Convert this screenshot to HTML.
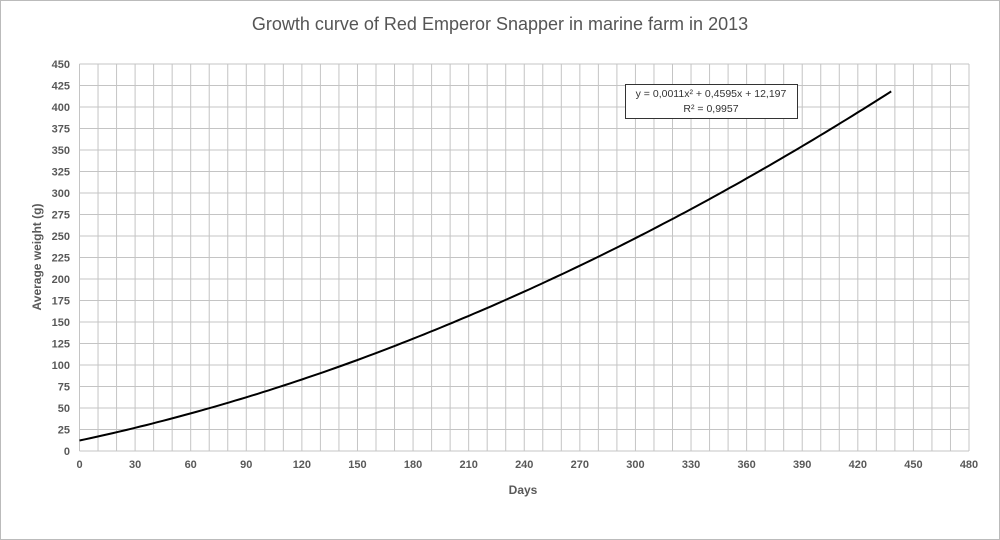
<!DOCTYPE html>
<html><head><style>
html,body{margin:0;padding:0;background:#fff;}
body{width:1000px;height:540px;overflow:hidden;}
svg{display:block;font-family:"Liberation Sans",sans-serif;}
</style></head><body>
<svg id="s" width="1000" height="540" viewBox="0 0 1000 540">
<rect x="0.5" y="0.5" width="999" height="539" fill="#fff" stroke="#bbb"/>
<text x="500" y="30" text-anchor="middle" font-size="18" fill="#555">Growth curve of Red Emperor Snapper in marine farm in 2013</text>
<g id="grid" stroke="#c4c4c4" stroke-width="1"></g>
<g id="lbl" font-size="11" fill="#595959" font-weight="bold"></g>
<text x="523" y="494" text-anchor="middle" font-size="12" font-weight="bold" fill="#595959">Days</text>
<text transform="translate(41,257) rotate(-90)" text-anchor="middle" font-size="12" font-weight="bold" fill="#595959">Average weight (g)</text>
<path id="c" fill="none" stroke="#000" stroke-width="2"/>
<rect x="625.5" y="84.5" width="172" height="34" fill="#fff" stroke="#333"/>
<text x="711" y="97" text-anchor="middle" font-size="10.5" fill="#333">y = 0,0011x² + 0,4595x + 12,197</text>
<text x="711" y="112" text-anchor="middle" font-size="10.5" fill="#333">R² = 0,9957</text>
</svg>
<script>
var L=79.5,R=969,T=64,B=451;
var g=document.getElementById('grid'),l=document.getElementById('lbl'),ns='http://www.w3.org/2000/svg';
function el(p,t,a){var e=document.createElementNS(ns,t);for(var k in a)e.setAttribute(k,a[k]);p.appendChild(e);return e;}
for(var i=0;i<=48;i++){var x=L+(R-L)*i/48;el(g,'line',{x1:x,x2:x,y1:T,y2:B});
 if(i%3==0){var t=el(l,'text',{x:x,y:B+17,'text-anchor':'middle'});t.textContent=i*10;}}
for(var j=0;j<=18;j++){var y=B-(B-T)*j/18;el(g,'line',{x1:L,x2:R,y1:y,y2:y});
 var t=el(l,'text',{x:70,y:y+4,'text-anchor':'end'});t.textContent=j*25;}
var d='';for(var k=0;k<=438;k+=3){var v=0.0011*k*k+0.4595*k+12.197;v*=k>200?1-(k-200)/238*0.015:1;
 d+=(k?'L':'M')+(L+(R-L)*k/480).toFixed(1)+','+(B-(B-T)*v/450).toFixed(1);}
document.getElementById('c').setAttribute('d',d);
</script>
</body></html>
